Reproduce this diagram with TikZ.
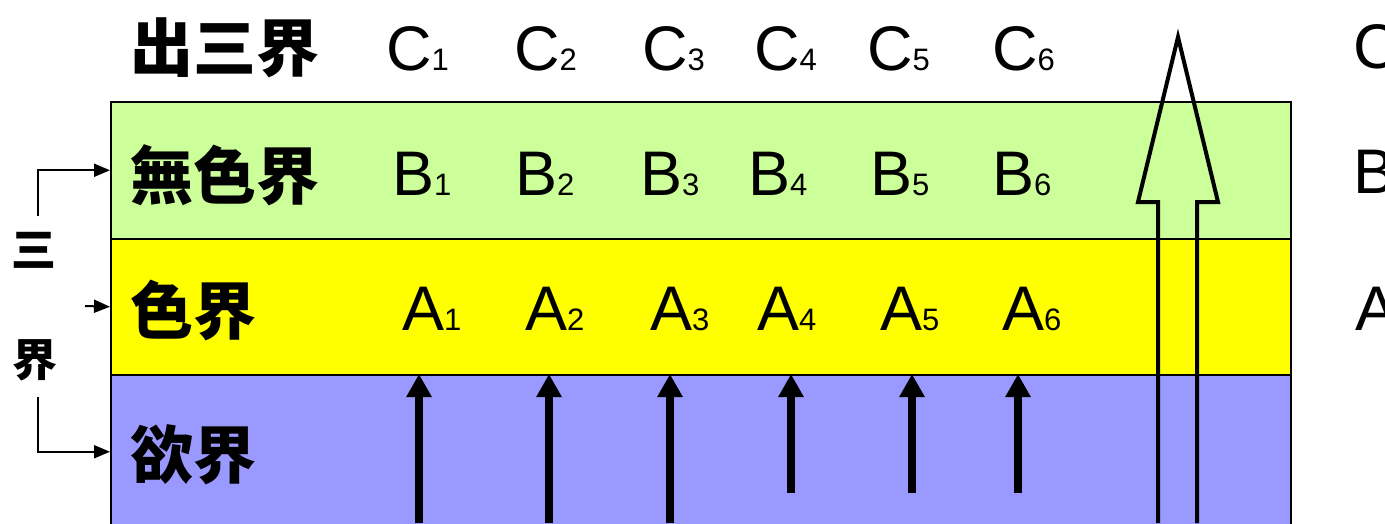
\documentclass[tikz,border=0pt]{standalone}
\usepackage{fontspec}
\setmainfont{Liberation Sans}
\newfontfamily\cjk{Noto Sans CJK TC}
\usetikzlibrary{arrows.meta}
\definecolor{wuse}{HTML}{CCFF99}
\definecolor{sejie}{HTML}{FFFF00}
\definecolor{yujie}{HTML}{9999FF}
\newcommand\idx[1]{{\fontsize{31}{31}\selectfont #1}}
\begin{document}
\begin{tikzpicture}[x=1pt,y=-1pt,
  band/.style={draw,line width=1.5pt,minimum width=1180pt,anchor=north west,inner sep=0},
  lbl/.style={anchor=west,inner sep=0,font=\cjk\bfseries\fontsize{63}{63}\selectfont},
  side/.style={inner sep=0,font=\cjk\bfseries\fontsize{45}{45}\selectfont},
  sym/.style={anchor=base west,inner sep=0,font=\fontsize{63}{63}\selectfont},
  rise/.style={line width=8pt,-{Triangle[width=24pt,length=23pt]}},
  link/.style={line width=2pt,-{Triangle[width=13pt,length=16pt]}}]
\useasboundingbox (0,0) rectangle (1385,523);
% the three realms
\node[band,fill=wuse,minimum height=137pt] (wuse) at (110,101) {};
\node[band,fill=sejie,minimum height=136pt] (sejie) at (110,238) {};
\node[band,fill=yujie,minimum height=154pt] (yujie) at (110,374) {};
\node[lbl] (out) at (130,48) {出三界};
\node[lbl] (wuselbl) at (130,175) {無色界};
\node[lbl] (sejielbl) at (130,310) {色界};
\node[lbl] (yujielbl) at (130,455) {欲界};
% letters in each row
\foreach \i/\xc/\xb/\xa in {1/386/392/402,2/514/515/525,3/642/640/650,4/754/748/757,5/867/870/880,6/992/992/1002} {
  \node[sym] (c\i) at (\xc,70) {C\idx{\i}};
  \node[sym] (b\i) at (\xb,195) {B\idx{\i}};
  \node[sym] (a\i) at (\xa,330) {A\idx{\i}};
}
\node[sym] (cr) at (1353,68) {C};
\node[sym] (br) at (1353,193) {B};
\node[sym] (ar) at (1355,330) {A};
% rising arrows
\foreach \i/\xr/\yb in {1/419/523,2/549/523,3/670/523,4/791/493,5/912/493,6/1018/493} {
  \coordinate (f\i) at (\xr,\yb);
  \coordinate (t\i) at (\xr,374);
  \draw[rise] (f\i) -- (t\i);
}
% big hollow arrow
\draw[line width=4pt,miter limit=20] (1158,523) -- (1158,202) -- (1138,202) -- (1178,37)
  -- (1218,202) -- (1197,202) -- (1197,523);
% brace on the left
\node[side] (san) at (34,250) {三};
\node[side] (jie) at (35,360) {界};
\coordinate (s0) at (38,216);
\coordinate (s1) at (85,306);
\coordinate (s2) at (38,397);
\draw[link] (s0) |- (wuse.west);
\draw[link] (s1) -- (sejie.west);
\draw[link] (s2) |- (yujie.west);
\end{tikzpicture}
\end{document}
